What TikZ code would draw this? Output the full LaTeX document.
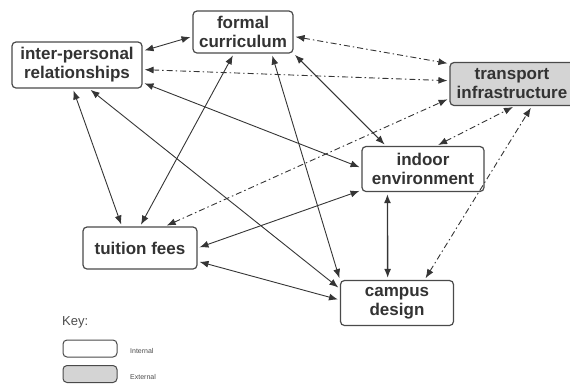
\documentclass[tikz,border=0pt]{standalone}
\usepackage{fontspec}
\setmainfont{Liberation Sans}
\usetikzlibrary{arrows.meta}
\definecolor{linegray}{HTML}{353535}
\definecolor{boxgray}{HTML}{4A4A4A}
\definecolor{extfill}{HTML}{D4D4D4}
\begin{document}
\begin{tikzpicture}[x=1pt,y=-1pt,
				factor/.style={draw=boxgray,line width=1.2pt,rounded corners=4pt,fill=white,align=center,
					font=\fontsize{17}{19}\selectfont\bfseries,text=black!80,inner sep=2pt},
				external/.style={factor,fill=extfill},
				link/.style={{Latex[length=9pt,width=7pt]}-{Latex[length=9pt,width=7pt]},draw=linegray,line width=0.9pt,
					shorten <=2pt,shorten >=2pt},
				extlink/.style={link,dash pattern=on 6pt off 3pt on 1.5pt off 3pt}]
\useasboundingbox (0,0) rectangle (570,384);
% factors
\node[factor,minimum width=100pt,minimum height=42pt] (fc) at (243,32) {formal\\curriculum};
\node[factor,minimum width=130pt,minimum height=46pt] (ipr) at (77,65) {inter-personal\\relationships};
\node[external,minimum width=124pt,minimum height=43pt] (ti) at (512,84) {transport\\infrastructure};
\node[factor,minimum width=122pt,minimum height=45pt] (ie) at (423,169) {indoor\\environment};
\node[factor,minimum width=113pt,minimum height=45pt] (cd) at (397,303) {campus\\design};
\node[factor,minimum width=114pt,minimum height=42pt] (tf) at (140,248) {tuition fees};
% internal links
\draw[link] (ipr.12) -- (fc.185);
\draw[link] (ipr.345) -- (ie.179);
\draw[link] (ipr.260) -- (tf.130);
\draw[link] (ipr.297) -- (cd.166);
\draw[link] (fc.247) -- (tf.90);
\draw[link] (fc.323) -- (cd.158);
\draw[link] (fc.337) -- (ie.148);
\draw[link] (tf.0) -- (ie.199);
\draw[link] (tf.347) -- (cd.177);
\draw[link,line width=1.4pt] (ie.213) -- (cd.112);
% external links
\draw[extlink] (fc.355) -- (ti.162);
\draw[extlink] (ipr.356) -- (ti.177);
\draw[extlink] (tf.41) -- (ti.193);
\draw[extlink] (ie.60) -- (ti.277);
\draw[extlink] (cd.40) -- (ti.312);
% key
\node[anchor=west,inner sep=0pt,font=\fontsize{13}{15}\selectfont,text=black!70] (key) at (62,322) {Key:};
\node[factor,minimum width=54pt,minimum height=17pt,inner sep=0pt,line width=1pt] (kint) at (90,348.5) {};
\node[external,minimum width=54pt,minimum height=17pt,inner sep=0pt,line width=1pt] (kext) at (90,374) {};
\node[anchor=west,inner sep=0pt,font=\fontsize{7}{8}\selectfont,text=black!70] (lint) at (130,351) {Internal};
\node[anchor=west,inner sep=0pt,font=\fontsize{7}{8}\selectfont,text=black!70] (lext) at (130,377) {External};
\end{tikzpicture}
\end{document}
